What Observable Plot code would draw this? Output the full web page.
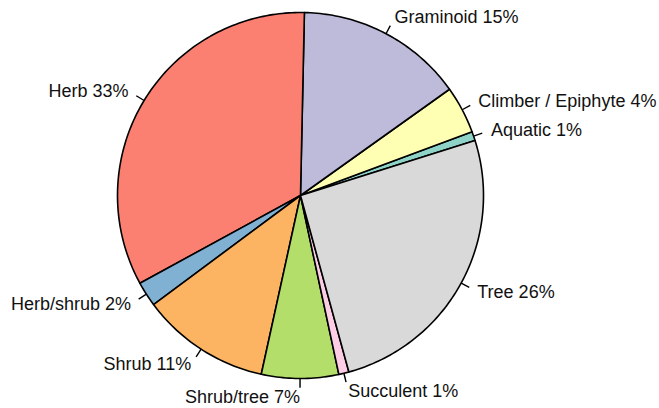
<!DOCTYPE html>
<html>
<head>
<meta charset="utf-8">
<script src="https://cdn.jsdelivr.net/npm/d3@7"></script>
<script src="https://cdn.jsdelivr.net/npm/@observablehq/plot@0.6"></script>
<style>
  html, body { margin: 0; padding: 0; background: #fff; }
</style>
</head>
<body>
<div id="chart"></div>
<script>
// Categories in drawing order (counter-clockwise from the start angle)
const categories = ["Aquatic", "Climber / Epiphyte", "Graminoid", "Herb", "Herb/shrub", "Shrub", "Shrub/tree", "Succulent", "Tree"];
// Slice shares (percent)
const shares = [0.8, 4.2, 14.8, 33.3, 2.2, 11.4, 6.8, 0.9, 25.6];
// Percent shown in the labels
const labelPercents = [1, 4, 15, 33, 2, 11, 7, 1, 26];
// Set3 colours
const colors = ["#8DD3C7", "#FFFFB3", "#BEBADA", "#FB8072", "#80B1D3", "#FDB462", "#B3DE69", "#FCCDE5", "#D9D9D9"];
const startAngleDeg = 17.5;

const total = d3.sum(shares);
let acc = startAngleDeg * Math.PI / 180;
const slices = categories.map((name, i) => {
  const a0 = acc;
  const a1 = acc + shares[i] / total * 2 * Math.PI;
  acc = a1;
  return {name, a0, a1, mid: (a0 + a1) / 2, label: `${name} ${labelPercents[i]}%`};
});

// Polygon vertices for each slice (unit circle space)
const polyPts = [];
for (const s of slices) {
  polyPts.push({name: s.name, x: 0, y: 0});
  const n = Math.max(2, Math.ceil((s.a1 - s.a0) / (Math.PI / 180)));
  for (let k = 0; k <= n; k++) {
    const a = s.a0 + (s.a1 - s.a0) * k / n;
    polyPts.push({name: s.name, x: Math.cos(a), y: Math.sin(a)});
  }
  polyPts.push({name: s.name, x: 0, y: 0});
}

const ticks = slices.map(s => ({
  x1: Math.cos(s.mid), y1: Math.sin(s.mid),
  x2: 1.05 * Math.cos(s.mid), y2: 1.05 * Math.sin(s.mid)
}));
const labels = slices.map(s => ({
  x: 1.1 * Math.cos(s.mid), y: 1.1 * Math.sin(s.mid), label: s.label, right: Math.cos(s.mid) > 0
}));

const cx = 300, cy = 195, R = 183;

const chart = Plot.plot({
  width: 659,
  height: 408,
  margin: 0,
  x: {type: "linear", domain: [-1, 1], range: [cx - R, cx + R], axis: null},
  y: {type: "linear", domain: [-1, 1], range: [cy + R, cy - R], axis: null},
  color: {domain: categories, range: colors},
  style: {fontFamily: "'Liberation Sans', Arial, sans-serif", fontSize: "18px", overflow: "visible", background: "#fff"},
  marks: [
    Plot.line(polyPts, {x: "x", y: "y", z: "name", fill: "name", stroke: "#000", strokeWidth: 1.6, strokeLinejoin: "round", curve: "linear"}),
    Plot.link(ticks, {x1: "x1", y1: "y1", x2: "x2", y2: "y2", stroke: "#000", strokeWidth: 1.4}),
    Plot.text(labels.filter(d => d.right), {x: "x", y: "y", text: "label", textAnchor: "start", fill: "#111", fontSize: 18}),
    Plot.text(labels.filter(d => !d.right), {x: "x", y: "y", text: "label", textAnchor: "end", fill: "#111", fontSize: 18})
  ]
});
document.getElementById("chart").appendChild(chart);
</script>
</body>
</html>
